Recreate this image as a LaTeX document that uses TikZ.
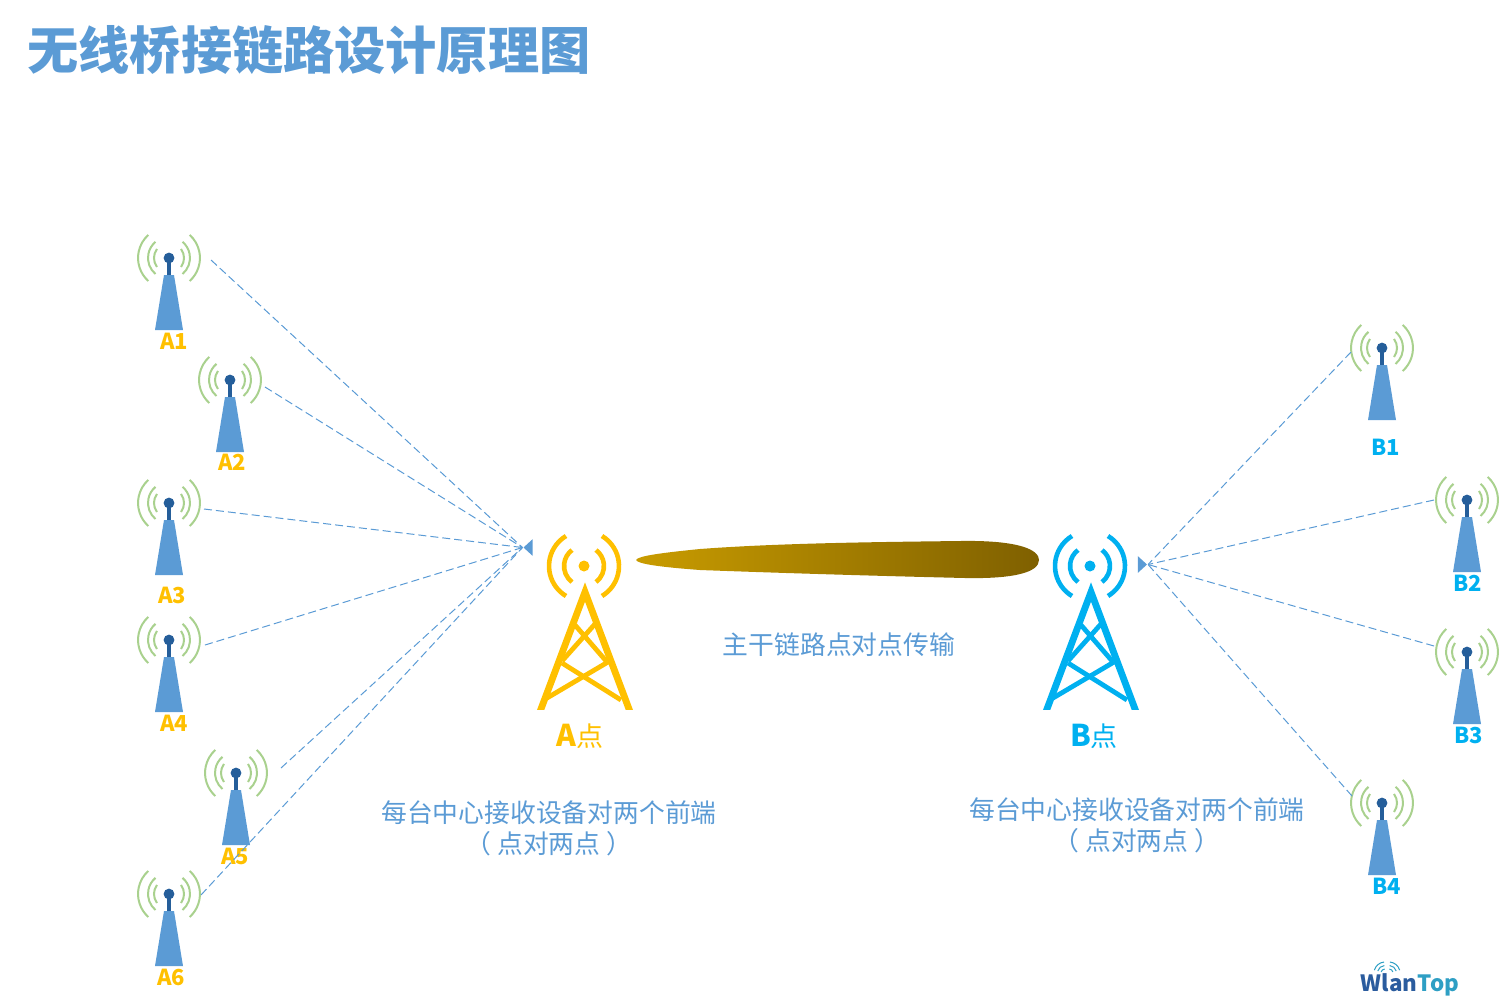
\documentclass[tikz,border=0pt]{standalone}
\usepackage{fontspec}
\setmainfont{Noto Sans CJK SC}
\usetikzlibrary{shapes.geometric}
\definecolor{mastblue}{HTML}{5B9BD5}
\definecolor{mastdark}{HTML}{255E9A}
\definecolor{wavegreen}{HTML}{A9D18E}
\definecolor{yellowA}{HTML}{FFC000}
\definecolor{blueB}{HTML}{00B0F0}
\definecolor{linkdark}{HTML}{7F6000}
\definecolor{linklight}{HTML}{C99C00}
\definecolor{logoblue}{HTML}{2B5C9E}
\definecolor{logoteal}{HTML}{2E9FC4}
\tikzstyle{wave}    = [wavegreen,line width=1pt]
\tikzstyle{link}    = [mastblue,line width=0.5pt,dash pattern=on 4pt off 2pt]
\tikzstyle{hubtip}  = [isosceles triangle,isosceles triangle stretches,fill=mastblue,inner sep=0pt,minimum height=4.6pt,minimum width=8.4pt]
\tikzstyle{tag}     = [inner sep=0pt,font=\fontsize{11}{13}\selectfont\bfseries]
\tikzstyle{tagA}    = [tag,yellowA]
\tikzstyle{tagB}    = [tag,blueB]
\tikzstyle{caption} = [inner sep=0pt,mastblue,align=center,font=\fontsize{12.9}{15.5}\selectfont]
\tikzstyle{logoarc} = [logoteal,line width=0.5pt]
\newcommand{\pointname}[1]{{\fontsize{15}{18}\selectfont\bfseries #1}{\fontsize{13.5}{18}\selectfont 点}}
\tikzset{
  minimast/.pic={
    \draw[wave] (12,10) arc[start angle=37,end angle=-37,radius=15];
    \draw[wave] (-12,10) arc[start angle=143,end angle=217,radius=15];
    \draw[wave] (13.5,17) arc[start angle=50,end angle=-50,radius=21];
    \draw[wave] (-13.5,17) arc[start angle=130,end angle=230,radius=21];
    \draw[wave] (20.7,24) arc[start angle=48,end angle=-48,radius=31];
    \draw[wave] (-20.7,24) arc[start angle=132,end angle=228,radius=31];
    \draw[mastdark,line width=1.6pt] (0,1) -- (0,19);
    \fill[mastdark] (0,1) circle (5.4);
    \fill[mastblue] (-5,18) -- (5,18) -- (14,73) -- (-14,73) -- cycle;
  },
  bigmast/.pic={
    \fill[#1] (0,0) circle (5.5);
    \draw[#1,line width=2.3pt] (12,16) arc[start angle=53,end angle=-53,radius=20];
    \draw[#1,line width=2.3pt] (-12,16) arc[start angle=127,end angle=233,radius=20];
    \draw[#1,line width=2.3pt] (18,30) arc[start angle=59,end angle=-59,radius=35];
    \draw[#1,line width=2.3pt] (-18,30) arc[start angle=121,end angle=239,radius=35];
    \begin{scope}
      \clip (-60,0) rectangle (60,143);
      \draw[#1,line width=3.4pt,miter limit=10] (-46.4,152) -- (1,26) -- (48.4,152);
    \end{scope}
    \draw[#1,line width=2.4pt] (-37,132) -- (24,96);
    \draw[#1,line width=2.4pt] (37,134) -- (-22,97);
    \draw[#1,line width=2.4pt] (-22,95) -- (11,58);
    \draw[#1,line width=2.4pt] (23,96) -- (-9,59);
  }
}

\begin{document}
\begin{tikzpicture}[x=0.5pt,y=-0.5pt]
\useasboundingbox (0,0) rectangle (1500,1002);

\node[inner sep=0pt,anchor=west,mastblue,font=\fontsize{25.6}{30}\selectfont\bfseries] (title) at (27,50) {无线桥接链路设计原理图};

% small masts, left
\pic (A1) at (169,257) {minimast};
\pic (A2) at (230,379) {minimast};
\pic (A3) at (169,502) {minimast};
\pic (A4) at (169,639) {minimast};
\pic (A5) at (236,772) {minimast};
\pic (A6) at (169,893) {minimast};
\node[tagA] (tagA1) at (174,341) {A1};
\node[tagA] (tagA2) at (232,462) {A2};
\node[tagA] (tagA3) at (172,595) {A3};
\node[tagA] (tagA4) at (174,723) {A4};
\node[tagA] (tagA5) at (235,856) {A5};
\node[tagA] (tagA6) at (171,977) {A6};

% small masts, right
\pic (B1) at (1382,347) {minimast};
\pic (B2) at (1467,499) {minimast};
\pic (B3) at (1467,651) {minimast};
\pic (B4) at (1382,802) {minimast};
\node[tagB] (tagB1) at (1386,447) {B1};
\node[tagB] (tagB2) at (1468,583) {B2};
\node[tagB] (tagB3) at (1469,735) {B3};
\node[tagB] (tagB4) at (1387,886) {B4};

% main towers
\pic (TA) at (584,566) {bigmast=yellowA};
\pic (TB) at (1090,566) {bigmast=blueB};
\node[inner sep=0pt,yellowA] (nameA) at (580,736) {\pointname{A}};
\node[inner sep=0pt,blueB] (nameB) at (1094,736) {\pointname{B}};

% backbone beam
\shade[left color=linklight,right color=linkdark]
  (636,560) .. controls (638,556) and (660,553) .. (700,549)
  .. controls (780,543) and (880,542) .. (960,541)
  .. controls (1020,540) and (1039,550) .. (1039,560)
  .. controls (1039,572) and (1015,579) .. (965,578)
  .. controls (880,576) and (780,573) .. (700,570)
  .. controls (660,567) and (638,564) .. (636,560) -- cycle;

\node[caption] (trunk) at (839,645) {主干链路点对点传输};
\node[caption] (noteA) at (549,828) {每台中心接收设备对两个前端\\（\hspace{3pt}点对两点\hspace{3pt}）};
\node[caption] (noteB) at (1137,825) {每台中心接收设备对两个前端\\（\hspace{3pt}点对两点\hspace{3pt}）};

% ends of the dashed links
\node[hubtip,shape border rotate=180] (hubA) at (529,547.5) {};
\node[hubtip] (hubB) at (1141.5,564.5) {};
\coordinate (endA1) at (211,260);
\coordinate (endA2) at (265,387);
\coordinate (endA3) at (204,509);
\coordinate (endA4) at (205,645);
\coordinate (endA5) at (281,768);
\coordinate (endA6) at (201,895);
\coordinate (endB1) at (1351,352);
\coordinate (endB2) at (1434,500);
\coordinate (endB3) at (1434,646);
\coordinate (endB4) at (1352,796);

\path
    (endA1) edge[link] (hubA.apex)
    (endA2) edge[link] (hubA.apex)
    (endA3) edge[link] (hubA.apex)
    (endA4) edge[link] (hubA.apex)
    (endA5) edge[link] (hubA.apex)
    (endA6) edge[link] (hubA.apex);
\path
    (endB1) edge[link] (hubB.apex)
    (endB2) edge[link] (hubB.apex)
    (endB3) edge[link] (hubB.apex)
    (endB4) edge[link] (hubB.apex);

% logo
\node[inner sep=0pt,font=\fontsize{11.2}{14}\selectfont\bfseries] (logo) at (1410,985) {\textcolor{logoblue}{Wlan}\textcolor{logoteal}{Top}};
\draw[logoarc] (1385,973) ++(-95:4) arc[start angle=-95,end angle=-165,radius=4];
\draw[logoarc] (1385,973) ++(-95:7.5) arc[start angle=-95,end angle=-165,radius=7.5];
\draw[logoarc] (1385,973) ++(-95:11) arc[start angle=-95,end angle=-165,radius=11];
\draw[logoarc] (1389,973) ++(-85:4) arc[start angle=-85,end angle=-15,radius=4];
\draw[logoarc] (1389,973) ++(-85:7.5) arc[start angle=-85,end angle=-15,radius=7.5];
\draw[logoarc] (1389,973) ++(-85:11) arc[start angle=-85,end angle=-15,radius=11];
\end{tikzpicture}
\end{document}
